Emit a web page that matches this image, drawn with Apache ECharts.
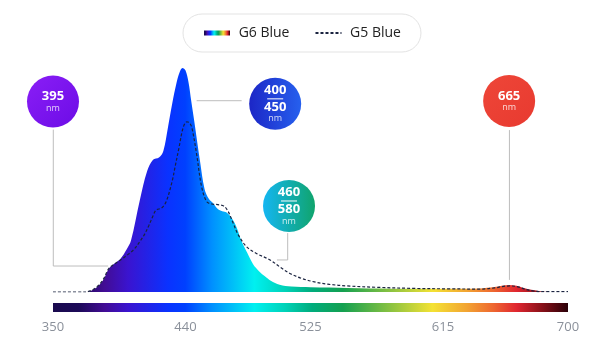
<!DOCTYPE html>
<html>
<head>
<meta charset="utf-8">
<title>G6 Blue vs G5 Blue spectrum</title>
<script src="https://cdn.jsdelivr.net/npm/echarts@6/dist/echarts.min.js"></script>
<style>
  html, body { margin: 0; padding: 0; background: #fff; }
  #chart { width: 600px; height: 353px; }
</style>
</head>
<body>
<div id="chart"></div>
<script>
// series names
var seriesNames = ['G6 Blue', 'G5 Blue'];

// G6 Blue (filled spectrum), wavelength in nm and relative level
var g6Nm    = [350, 372, 376, 380, 384, 388, 392, 396, 400, 403, 409, 414, 418, 422, 425, 428, 431, 434, 436, 438, 440, 442, 444, 446.5, 450, 453, 456, 459, 462, 465, 468, 472, 475, 478, 482, 486, 490, 494, 498, 504, 512, 525, 550, 580, 620, 640, 650, 655, 660, 665, 670, 675, 680, 684, 690, 700];
var g6Level = [0, 0, 0.6, 2.2, 5.2, 10.5, 12.8, 15, 19, 23, 41, 54, 59, 60, 63, 73, 84, 93.5, 98, 100, 99, 94, 85, 74, 58, 46, 41.5, 39.5, 37, 36, 35.5, 32.5, 28.5, 23, 17.5, 12.4, 9.3, 7, 5, 3.2, 2.4, 2.1, 1.8, 1.5, 1.4, 1.6, 2.2, 2.8, 3.1, 2.8, 1.8, 1, 0.5, 0.1, 0, 0];

// G5 Blue (dashed line)
var g5Nm    = [350, 372, 376, 380, 384, 388, 392, 397, 401, 405, 409, 412, 415, 418, 420, 424, 427, 431, 433, 435.5, 438.5, 441, 443, 444.5, 447.5, 451, 454.5, 458, 462, 466, 469, 472.5, 476, 481.6, 488, 497.5, 505, 511, 518, 527, 538, 550, 570, 595, 620, 640, 650, 656, 661, 666, 671, 676, 681, 700];
var g5Level = [0, 0, 0.7, 2.4, 5.5, 10.5, 12.6, 14.8, 16.8, 19, 22.5, 25.5, 29.5, 34, 36.5, 37.6, 40.5, 49.5, 56, 64, 73.5, 76, 75.3, 73, 62, 47, 40.3, 39.3, 39, 38.4, 36, 30.7, 25.4, 20.2, 17.3, 14.3, 10.8, 8.3, 6.3, 4.6, 3.4, 2.7, 2.1, 1.6, 1.4, 1.3, 1.8, 2.5, 2.7, 2.3, 1.2, 0.5, 0.2, 0.2];

// axis tick labels (nm)
var tickNm = [350, 440, 525, 615, 700];

// callouts: text lines, anchor [nm, level], leader path in [nm, level]
var calloutText = [['395'], ['400', '450'], ['460', '580'], ['665']];
var calloutAt = [[350, 85], [501, 84], [510.4, 38.4], [660, 85.3]];
var leaderPaths = [
  [[350.2, 72.5], [350.2, 11.6], [387.5, 11.6]],
  [[447.6, 85.4], [478.2, 85.4]],
  [[509.5, 26.3], [509.5, 14.3], [502.2, 14.3]],
  [[660.2, 72.3], [660.2, 5.4]]
];

var FONT = '"Open Sans", "DejaVu Sans", sans-serif';

var spectrum = [
  [0, '#1a0a4e'], [0.05, '#1c0a58'], [0.10, '#420c94'], [0.146, '#3a14d0'],
  [0.223, '#0a32ff'], [0.257, '#0040ff'], [0.309, '#0090ff'], [0.391, '#00f0f0'],
  [0.451, '#00d2b8'], [0.503, '#00ac7c'], [0.563, '#14a050'], [0.66, '#90c440'],
  [0.737, '#f4e234'], [0.803, '#f2a432'], [0.854, '#ee6830'], [0.90, '#e02630'],
  [0.951, '#861018'], [1, '#2a0008']
];

function spectrumGradient() {
  return new echarts.graphic.LinearGradient(0, 0, 1, 0, spectrum.map(function (s) {
    return { offset: s[0], color: s[1] };
  }));
}
function grad(c1, c2, x2, y2) {
  return new echarts.graphic.LinearGradient(0, 0, x2, y2, [
    { offset: 0, color: c1 }, { offset: 1, color: c2 }
  ]);
}
function pairs(xs, ys) {
  var out = [];
  for (var i = 0; i < xs.length; i++) out.push([xs[i], ys[i]]);
  return out;
}

var bubbleFill = [
  grad('#8a1ef6', '#6c0ce6', 1, 1),
  grad('#1c26c6', '#2660ee', 1, 0),
  grad('#14b6f2', '#10a46c', 1, 0),
  grad('#ee4638', '#e83a30', 1, 1)
];

function calloutLabel(lines) {
  if (lines.length === 1) return '{n|' + lines[0] + '}\n{u|nm}';
  return '{n|' + lines[0] + '}\n{bar| }\n{n|' + lines[1] + '}\n{u|nm}';
}

var series = [
  {
    name: seriesNames[0],
    type: 'line',
    xAxisIndex: 0, yAxisIndex: 0,
    data: pairs(g6Nm, g6Level),
    smooth: 0.35,
    symbol: 'none',
    lineStyle: { width: 0 },
    itemStyle: { color: '#2040ff' },
    areaStyle: { color: spectrumGradient(), opacity: 1 },
    silent: true,
    z: 2
  },
  {
    name: seriesNames[1],
    type: 'line',
    xAxisIndex: 0, yAxisIndex: 0,
    data: pairs(g5Nm, g5Level),
    smooth: 0.35,
    symbol: 'none',
    lineStyle: { color: '#1b2440', width: 1.2, type: [3, 2] },
    itemStyle: { color: '#1b2440' },
    silent: true,
    z: 3
  },
  {
    // spectrum bar under the chart
    name: 'bar',
    type: 'line',
    xAxisIndex: 1, yAxisIndex: 1,
    data: [[350, 1], [700, 1]],
    symbol: 'none',
    lineStyle: { width: 0 },
    areaStyle: { color: spectrumGradient(), opacity: 1 },
    silent: true
  }
];

leaderPaths.forEach(function (p, i) {
  series.push({
    name: 'leader' + i,
    type: 'line',
    xAxisIndex: 0, yAxisIndex: 0,
    data: p,
    symbol: 'none',
    lineStyle: { color: '#bdbdbd', width: 1 },
    silent: true,
    z: 1
  });
});

series.push({
  name: 'callouts',
  type: 'scatter',
  xAxisIndex: 0, yAxisIndex: 0,
  clip: false,
  silent: true,
  symbolSize: 52,
  z: 5,
  itemStyle: { opacity: 1 },
  data: calloutAt.map(function (p, i) {
    return {
      value: p,
      itemStyle: { color: bubbleFill[i], opacity: 1 },
      label: { formatter: calloutLabel(calloutText[i]) }
    };
  }),
  label: {
    show: true,
    position: 'inside',
    align: 'center',
    rich: {
      n: { color: '#fff', fontSize: 13, fontWeight: 'bold', lineHeight: 13, fontFamily: FONT, align: 'center' },
      u: { color: 'rgba(255,255,255,0.8)', fontSize: 9, lineHeight: 10, fontFamily: FONT, align: 'center' },
      bar: { width: 16, height: 1, backgroundColor: '#fff', fontSize: 1, lineHeight: 4, align: 'center' }
    }
  }
});

var dom = document.getElementById('chart');
var myChart = echarts.init(dom, null, { renderer: 'canvas' });

var option = {
  backgroundColor: '#fff',
  animation: false,
  legend: {
    left: 183,
    top: 14,
    padding: [12, 20, 12, 21],
    itemGap: 25,
    itemWidth: 26,
    itemHeight: 5,
    borderColor: '#e3e3e3',
    borderWidth: 1,
    borderRadius: 19,
    selectedMode: false,
    formatter: function (n) { return ' ' + n; },
    textStyle: { fontFamily: FONT, fontSize: 14, color: '#222' },
    data: [
      { name: seriesNames[0], icon: 'rect', itemStyle: { color: spectrumGradient() } },
      { name: seriesNames[1], itemStyle: { color: 'rgba(0,0,0,0)', borderWidth: 0 } }
    ]
  },
  grid: [
    { left: 53, right: 32, top: 68, bottom: 61 },
    { left: 53, right: 32, top: 303, height: 9 }
  ],
  xAxis: [
    { gridIndex: 0, type: 'value', min: 350, max: 700, show: false },
    {
      gridIndex: 1, type: 'value', min: 350, max: 700,
      axisLine: { show: false },
      axisTick: { show: false },
      splitLine: { show: false },
      axisLabel: {
        customValues: tickNm,
        margin: 9,
        color: '#8a909a',
        fontSize: 13,
        fontFamily: FONT
      }
    }
  ],
  yAxis: [
    { gridIndex: 0, type: 'value', min: 0, max: 100, show: false },
    { gridIndex: 1, type: 'value', min: 0, max: 1, show: false }
  ],
  series: series
};

myChart.setOption(option);
window.addEventListener('resize', myChart.resize);
</script>
</body>
</html>
